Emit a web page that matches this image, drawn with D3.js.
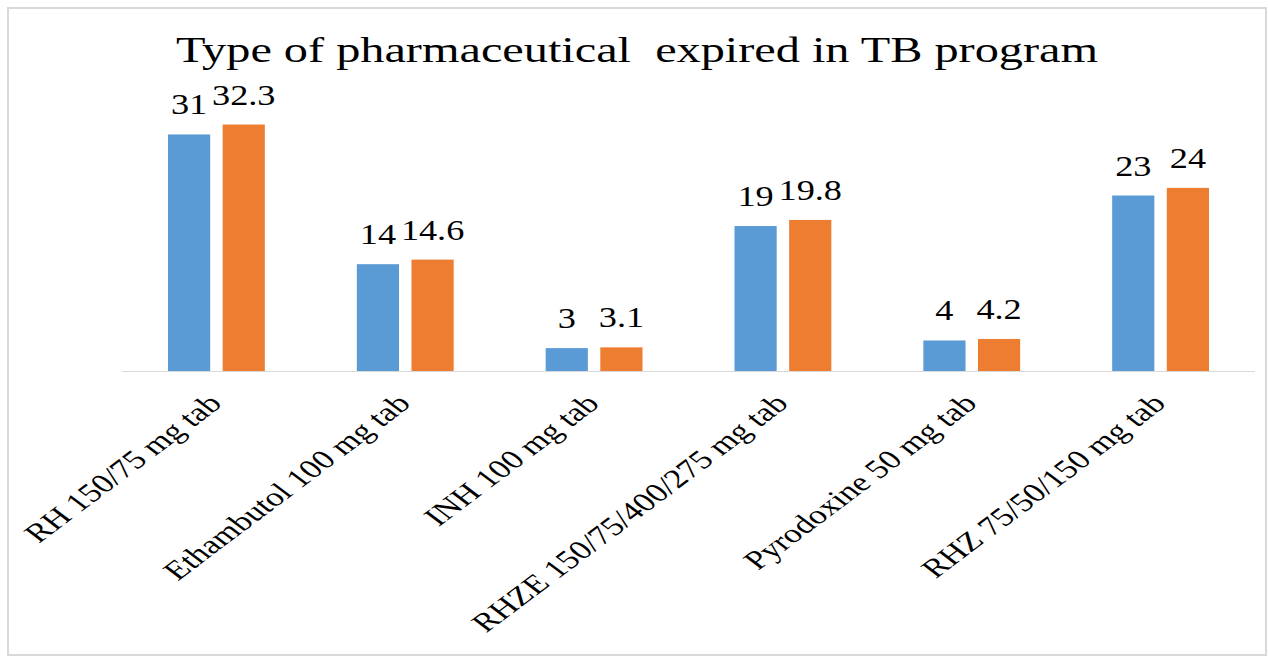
<!DOCTYPE html>
<html>
<head>
<meta charset="utf-8">
<script src="https://cdn.jsdelivr.net/npm/d3@7"></script>
<style>
  html, body { margin: 0; padding: 0; background: #fff; }
  svg { display: block; }
  text { font-family: "Liberation Serif", "Times New Roman", serif; fill: #000; }
</style>
</head>
<body>
<svg width="1268" height="657"></svg>
<script>
const categories = [
  "RH 150/75 mg tab",
  "Ethambutol 100 mg tab",
  "INH 100 mg tab",
  "RHZE 150/75/400/275 mg tab",
  "Pyrodoxine 50 mg tab",
  "RHZ 75/50/150 mg tab"
];
const seriesNames = ["Frequency", "Percent"];
const frequency = [31, 14, 3, 19, 4, 23];
const percent = [32.3, 14.6, 3.1, 19.8, 4.2, 24];
const title = "Type of pharmaceutical  expired in TB program";

const colors = ["#5B9BD5", "#ED7D31"];
const width = 1268;
const height = 657;

// reference looks stretched sideways, so text gets a horizontal scale
const titleStretch = 1.38;
const valueStretch = 1.25;
const catStretch = 1.33;

const svg = d3.select("svg");

svg.append("rect")
  .attr("x", 8).attr("y", 8)
  .attr("width", 1258).attr("height", 647)
  .attr("fill", "#fff")
  .attr("stroke", "#d9d9d9")
  .attr("stroke-width", 2);

const x0 = d3.scaleBand()
  .domain(categories)
  .range([122, 1255])
  .paddingInner(0)
  .paddingOuter(0);

const x1 = d3.scaleBand()
  .domain(seriesNames)
  .range([46, x0.bandwidth() - 46])
  .paddingInner(0.228)
  .paddingOuter(0);

const y = d3.scaleLinear()
  .domain([0, 35])
  .range([371, 371 - 35 * 7.63]);

const rows = categories.map((c, i) => ({
  cat: c,
  vals: [
    { key: seriesNames[0], v: frequency[i] },
    { key: seriesNames[1], v: percent[i] }
  ]
}));

// bars
const groups = svg.append("g").selectAll("g")
  .data(rows)
  .join("g")
  .attr("transform", d => `translate(${x0(d.cat)},0)`);

groups.selectAll("rect")
  .data(d => d.vals)
  .join("rect")
  .attr("x", d => x1(d.key))
  .attr("y", d => y(d.v))
  .attr("width", x1.bandwidth())
  .attr("height", d => y(0) - y(d.v))
  .attr("fill", (d, i) => colors[i]);

// value labels
groups.selectAll("text")
  .data(d => d.vals)
  .join("text")
  .attr("transform", d => `translate(${x1(d.key) + x1.bandwidth() / 2},${y(d.v) - 20}) scale(${valueStretch},1)`)
  .attr("text-anchor", "middle")
  .style("font-size", "29px")
  .text(d => d.v);

// baseline
svg.append("line")
  .attr("x1", x0.range()[0]).attr("x2", x0.range()[1])
  .attr("y1", y(0) + 0.5).attr("y2", y(0) + 0.5)
  .attr("stroke", "#d9d9d9")
  .attr("stroke-width", 1);

// category labels, rotated
svg.append("g").selectAll("text")
  .data(categories)
  .join("text")
  .attr("transform", d => `translate(${x0(d) + x0.bandwidth() / 2 + 7},${y(0) + 34}) scale(${catStretch},1) rotate(-45)`)
  .attr("text-anchor", "end")
  .style("font-size", "26.5px")
  .text(d => d);

// title
svg.append("text")
  .attr("transform", `translate(637,62) scale(${titleStretch},1)`)
  .attr("text-anchor", "middle")
  .attr("xml:space", "preserve")
  .style("white-space", "pre")
  .style("font-size", "35px")
  .text(title);
</script>
</body>
</html>
